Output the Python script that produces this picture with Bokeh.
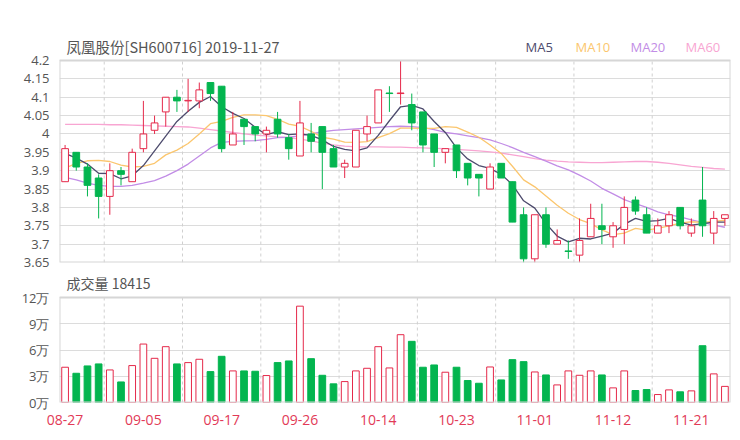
from bokeh.plotting import figure
from bokeh.models import Range1d, FixedTicker, NumeralTickFormatter, PrintfTickFormatter, ColumnDataSource
from bokeh.layouts import column
from bokeh.embed import file_html
from bokeh.resources import INLINE
from bokeh.core.properties import value

title_text = "凤凰股份[SH600716] 2019-11-27"
vol_title_text = "成交量 18415"
tick_labels = ["08-27", "09-05", "09-17", "09-26", "10-14", "10-23", "11-01", "11-12", "11-21"]
ma_names = ["MA5", "MA10", "MA20", "MA60"]

opens = [3.87, 3.95, 3.91, 3.88, 3.83, 3.90, 3.87, 3.96, 4.01, 4.06,
         4.10, 4.09, 4.09, 4.14, 4.13, 3.97, 4.04, 4.02, 4.00, 4.04,
         3.99, 3.94, 4.00, 4.02, 3.96, 3.91, 3.91, 4.00, 4.03, 4.11,
         4.11, 4.08, 4.06, 4.00, 3.95, 3.97, 3.92, 3.89, 3.85, 3.92,
         3.87, 3.78, 3.66, 3.78, 3.70, 3.68, 3.67, 3.72, 3.75, 3.72,
         3.74, 3.82, 3.78, 3.73, 3.75, 3.80, 3.73, 3.82, 3.73, 3.77]
highs = [3.97, 3.95, 3.92, 3.89, 3.92, 3.91, 3.96, 4.09, 4.05, 4.10,
         4.12, 4.15, 4.14, 4.14, 4.13, 4.06, 4.04, 4.02, 4.02, 4.06,
         4.00, 4.09, 4.03, 4.02, 3.97, 3.93, 4.01, 4.05, 4.12, 4.13,
         4.20, 4.11, 4.06, 4.00, 3.96, 3.97, 3.92, 3.89, 3.92, 3.92,
         3.87, 3.80, 3.78, 3.80, 3.74, 3.71, 3.77, 3.81, 3.81, 3.76,
         3.83, 3.83, 3.80, 3.77, 3.79, 3.80, 3.77, 3.91, 3.79, 3.78]
lows = [3.87, 3.90, 3.83, 3.77, 3.78, 3.86, 3.87, 3.95, 4.00, 4.02,
        4.06, 4.06, 4.07, 4.09, 3.95, 3.97, 3.97, 3.98, 3.95, 3.99,
        3.93, 3.94, 3.95, 3.85, 3.91, 3.88, 3.91, 3.98, 4.03, 4.06,
        4.08, 4.01, 3.95, 3.91, 3.92, 3.88, 3.86, 3.83, 3.85, 3.88,
        3.76, 3.65, 3.65, 3.69, 3.70, 3.66, 3.65, 3.72, 3.70, 3.69,
        3.70, 3.78, 3.73, 3.73, 3.73, 3.74, 3.72, 3.72, 3.70, 3.75]
closes = [3.96, 3.91, 3.86, 3.83, 3.90, 3.89, 3.95, 4.00, 4.03, 4.10,
          4.09, 4.09, 4.12, 4.11, 3.96, 4.00, 4.02, 4.00, 4.01, 4.00,
          3.96, 4.03, 3.98, 3.95, 3.91, 3.92, 4.01, 4.02, 4.12, 4.11,
          4.11, 4.03, 3.97, 3.95, 3.96, 3.90, 3.88, 3.88, 3.91, 3.88,
          3.76, 3.66, 3.78, 3.70, 3.71, 3.68, 3.71, 3.77, 3.74, 3.75,
          3.80, 3.79, 3.73, 3.75, 3.78, 3.75, 3.75, 3.75, 3.77, 3.78]
volumes = [40300, 33400, 41800, 44100, 37200, 23500, 42200, 66800, 50500, 63800,
           44100, 45600, 49400, 35300, 52800, 36100, 36100, 35700, 30800, 45600,
           47500, 110100, 50100, 31100, 21300, 23900, 36100, 39100, 63800, 39500,
           77500, 69900, 40300, 42900, 34600, 40300, 25100, 22000, 40600, 25800,
           49000, 46700, 34900, 31500, 20100, 36100, 31100, 36100, 31500, 16700,
           36100, 13700, 14800, 9100, 14400, 12200, 13300, 64900, 32700, 18415]
ma5 = [3.947, 3.934, 3.918, 3.893, 3.892, 3.878, 3.886, 3.914, 3.954, 3.994,
       4.034, 4.062, 4.086, 4.102, 4.074, 4.056, 4.042, 4.018, 3.998, 4.006,
       3.998, 4.000, 3.996, 3.984, 3.966, 3.958, 3.954, 3.962, 3.996, 4.036,
       4.074, 4.078, 4.068, 4.034, 4.004, 3.962, 3.932, 3.914, 3.906, 3.890,
       3.862, 3.818, 3.798, 3.756, 3.722, 3.706, 3.716, 3.714, 3.722, 3.730,
       3.754, 3.770, 3.762, 3.764, 3.770, 3.760, 3.752, 3.756, 3.760, 3.760]
ma10 = [3.907, 3.920, 3.927, 3.928, 3.925, 3.915, 3.910, 3.912, 3.920, 3.943,
        3.956, 3.974, 4.000, 4.028, 4.034, 4.045, 4.052, 4.052, 4.050, 4.040,
        4.027, 4.021, 4.007, 3.991, 3.986, 3.978, 3.977, 3.979, 3.990, 4.001,
        4.016, 4.016, 4.015, 4.015, 4.020, 4.018, 4.005, 3.991, 3.970, 3.947,
        3.912, 3.875, 3.856, 3.831, 3.806, 3.784, 3.767, 3.756, 3.739, 3.726,
        3.730, 3.743, 3.738, 3.743, 3.750, 3.757, 3.761, 3.759, 3.762, 3.765]
ma20 = [3.882, 3.875, 3.866, 3.860, 3.857, 3.857, 3.860, 3.866, 3.873, 3.885,
        3.900, 3.918, 3.940, 3.962, 3.977, 3.980, 3.981, 3.982, 3.985, 3.990,
        3.991, 3.995, 4.000, 4.006, 4.010, 4.012, 4.014, 4.016, 4.018, 4.020,
        4.021, 4.020, 4.017, 4.012, 4.004, 4.000, 3.995, 3.990, 3.984, 3.974,
        3.963, 3.950, 3.938, 3.926, 3.913, 3.902, 3.888, 3.872, 3.852, 3.837,
        3.821, 3.810, 3.800, 3.788, 3.780, 3.774, 3.766, 3.759, 3.752, 3.746]
ma60 = [4.026, 4.026, 4.026, 4.026, 4.025, 4.025, 4.024, 4.023, 4.022, 4.021,
        4.020, 4.019, 4.016, 4.012, 4.008, 4.004, 4.000, 3.997, 3.995, 3.992,
        3.990, 3.986, 3.981, 3.975, 3.970, 3.967, 3.965, 3.965, 3.965, 3.964,
        3.964, 3.963, 3.962, 3.961, 3.960, 3.958, 3.956, 3.954, 3.951, 3.948,
        3.943, 3.938, 3.933, 3.929, 3.926, 3.924, 3.923, 3.922, 3.922, 3.923,
        3.924, 3.925, 3.925, 3.923, 3.920, 3.916, 3.912, 3.909, 3.906, 3.904]

RED = "#e5294a"
GREEN = "#03b54f"
MA_COLORS = ["#4d4b6d", "#fbc66e", "#c28de6", "#f8a5d2"]
AXIS_TEXT = "#555555"
BORDER = "#d6d6d6"
FONT = "Open Sans"
CJK_FONT = "Noto Sans CJK SC"

# page layout (pixels)
W = 736
LEFT, RIGHT = 59, 6
P_TOP, P_AXIS_TOP, P_BOTTOM, P_H = 30, 60, 262, 270      # price panel
V_TOP, V_AXIS_TOP, V_BOTTOM, V_H = 272, 297, 402, 162    # volume panel (page y)
P_MIN, P_MAX = 3.65, 4.2
V_MIN, V_MAX = 0, 12

n = len(closes)
xs = list(range(n))
x0, x1 = -0.5, n - 0.5

# candle direction: body colour; doji decided by previous close
candle_up = []
for i in range(n):
    if closes[i] > opens[i]:
        candle_up.append(True)
    elif closes[i] < opens[i]:
        candle_up.append(False)
    else:
        candle_up.append(i == 0 or closes[i] >= closes[i - 1])
vol_up = [closes[i] >= opens[i] for i in range(n)]

body_bottom = [min(o, c) for o, c in zip(opens, closes)]
body_top = [max(o, c) + (0.0015 if o == c else 0) for o, c in zip(opens, closes)]
cs = ColumnDataSource(dict(
    x=xs, top=body_top, bottom=body_bottom, high=highs, low=lows,
    line=[RED if u else GREEN for u in candle_up],
    fill=["white" if u else GREEN for u in candle_up],
))
vs = ColumnDataSource(dict(
    x=xs, v=[v / 10000 for v in volumes],
    line=[RED if u else GREEN for u in vol_up],
    fill=["white" if u else GREEN for u in vol_up],
))

x_range = Range1d(x0, x1)
grid_x = [3.5 + 7 * k for k in range(8)]


def make_panel(height, top_px, axis_top_px, bottom_px, vmin, vmax, page_top):
    # frame extends above the value area so that the panel's header text sits inside it
    per_px = (vmax - vmin) / (bottom_px - axis_top_px)
    y_end = vmax + (axis_top_px - top_px) * per_px
    f = figure(width=W, height=height, x_range=x_range, y_range=Range1d(vmin, y_end),
               output_backend="svg", toolbar_location=None,
               min_border_left=LEFT, min_border_right=RIGHT,
               min_border_top=top_px - page_top,
               min_border_bottom=height - (bottom_px - page_top))
    f.extra_x_ranges = {"px": Range1d(LEFT, W - RIGHT)}
    f.extra_y_ranges = {"py": Range1d(bottom_px, top_px)}
    f.outline_line_color = None
    f.background_fill_color = "white"
    f.border_fill_color = "white"
    f.yaxis.axis_line_color = None
    f.yaxis.major_tick_line_color = None
    f.yaxis.minor_tick_line_color = None
    f.yaxis.major_label_text_color = AXIS_TEXT
    f.yaxis.major_label_text_font = FONT
    f.yaxis.major_label_text_font_size = "13px"
    f.yaxis.major_label_standoff = 4
    f.ygrid.grid_line_color = "#dcdcdc"
    f.ygrid.grid_line_width = 1
    f.xgrid.visible = False
    # dashed vertical grid within the value area only
    f.segment(x0=grid_x, y0=[vmin] * len(grid_x), x1=grid_x, y1=[vmax] * len(grid_x),
              line_color="#d0d0d0", line_dash="3 3", line_width=1)
    return f


def frame_box(f, vmin, vmax):
    f.quad(left=[x0], right=[x1], bottom=[vmin], top=[vmax], fill_color=None,
           line_color=BORDER, line_width=2)


# ---------------- price panel ----------------
p = make_panel(P_H, P_TOP, P_AXIS_TOP, P_BOTTOM, P_MIN, P_MAX, 0)
p.yaxis.ticker = FixedTicker(ticks=[round(P_MIN + 0.05 * k, 2) for k in range(12)])
p.yaxis.formatter = NumeralTickFormatter(format="0.[00]")
p.xaxis.visible = False

for vals, col in zip([ma60, ma20, ma10, ma5], MA_COLORS[::-1]):
    p.line(xs, vals, line_color=col, line_width=1.3)

p.segment(x0="x", y0="low", x1="x", y1="high", line_color="line", line_width=1, source=cs)
p.vbar(x="x", top="top", bottom="bottom", width=0.6, fill_color="fill",
       line_color="line", line_width=1, source=cs)
frame_box(p, P_MIN, P_MAX)

p.text(x=[66], y=[46], text=[title_text], text_font=value(CJK_FONT),
       text_font_size="14.5px", text_color="#555555", text_baseline="middle",
       x_range_name="px", y_range_name="py")
p.text(x=[525, 575, 630, 685], y=[46] * 4, text=ma_names, text_font=value(FONT),
       text_font_size="13px", text_color=MA_COLORS, text_baseline="middle",
       x_range_name="px", y_range_name="py")

# ---------------- volume panel ----------------
q = make_panel(V_H, V_TOP, V_AXIS_TOP, V_BOTTOM, V_MIN, V_MAX, P_H)
q.yaxis.ticker = FixedTicker(ticks=[0, 3, 6, 9, 12])
q.yaxis.formatter = PrintfTickFormatter(format="%d万")
q.xaxis.ticker = FixedTicker(ticks=list(range(0, n, 7))[:len(tick_labels)])
q.xaxis.major_label_overrides = {i * 7: t for i, t in enumerate(tick_labels)}
q.xaxis.axis_line_color = None
q.xaxis.major_tick_line_color = None
q.xaxis.minor_tick_line_color = None
q.xaxis.major_label_text_color = "#e23a57"
q.xaxis.major_label_text_font = FONT
q.xaxis.major_label_text_font_size = "14px"
q.xaxis.major_label_standoff = 6

q.vbar(x="x", top="v", bottom=0, width=0.6, fill_color="fill", line_color="line",
       line_width=1, source=vs)
frame_box(q, V_MIN, V_MAX)
q.text(x=[66], y=[282], text=[vol_title_text], text_font=value(CJK_FONT),
       text_font_size="14px", text_color="#555555", text_baseline="middle",
       x_range_name="px", y_range_name="py")

layout = column(p, q, spacing=0)
open("out.html", "w").write(file_html(layout, INLINE))
